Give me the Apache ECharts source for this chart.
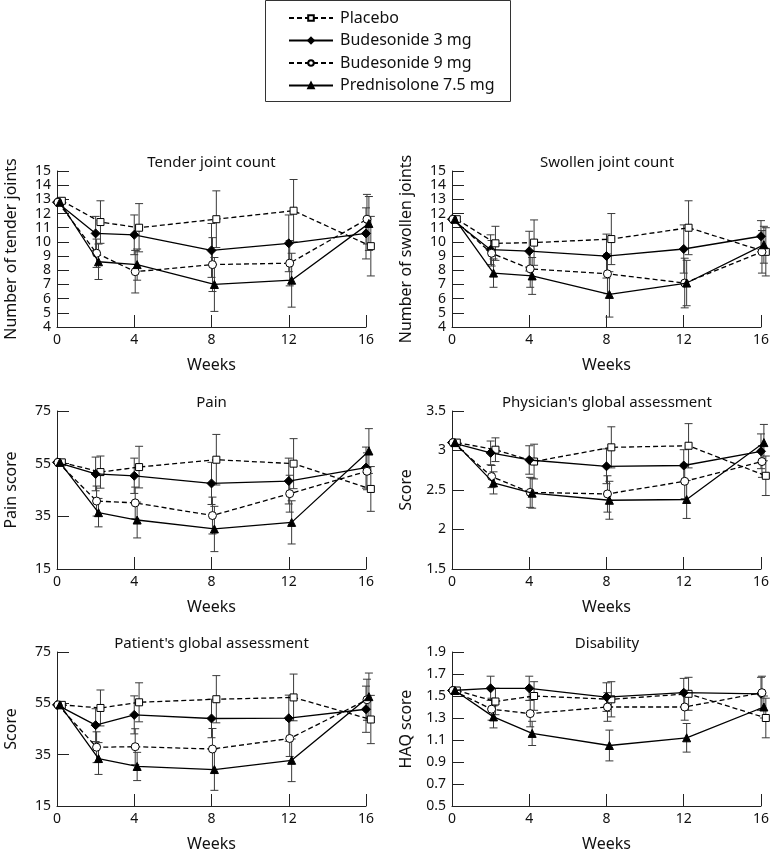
<!DOCTYPE html>
<html>
<head>
<meta charset="utf-8">
<script src="https://cdn.jsdelivr.net/npm/echarts@6/dist/echarts.min.js"></script>
<style>
  html, body { margin: 0; padding: 0; background: #fff; }
  #chart { width: 772px; height: 853px; }
</style>
</head>
<body>
<div id="chart"></div>
<script>
// weeks of assessment
const weeks = [0, 2, 4, 8, 12, 16];
const groupNames = ['Placebo', 'Budesonide 3 mg', 'Budesonide 9 mg', 'Prednisolone 7.5 mg'];

// means per group (Placebo, Bud 3, Bud 9, Pred) and error half-widths
const tenderMean = [
  [12.9, 11.4, 11.0, 11.6, 12.2, 9.7],
  [12.8, 10.6, 10.5, 9.4, 9.9, 10.6],
  [12.8, 9.2, 7.9, 8.4, 8.5, 11.6],
  [12.8, 8.6, 8.4, 7.0, 7.3, 11.3],
];
const tenderErr = [
  [0, 1.5, 1.7, 2.0, 2.2, 2.1],
  [0, 1.2, 1.4, 1.9, 2.0, 1.8],
  [0, 1.0, 1.5, 1.9, 1.6, 1.75],
  [0, 1.25, 1.1, 1.9, 1.9, 1.9],
];
const swollenMean = [
  [11.6, 9.9, 9.95, 10.2, 11.0, 9.3],
  [11.6, 9.45, 9.35, 9.0, 9.5, 10.4],
  [11.6, 9.2, 8.1, 7.75, 7.1, 9.3],
  [11.6, 7.8, 7.6, 6.3, 7.1, 9.8],
];
const swollenErr = [
  [0, 1.2, 1.6, 1.8, 1.9, 1.7],
  [0, 1.05, 1.4, 1.55, 1.7, 1.1],
  [0, 0.9, 1.3, 1.4, 1.75, 1.5],
  [0, 1.0, 1.3, 1.6, 1.6, 1.3],
];
const painMean = [
  [55.5, 51.8, 53.7, 56.5, 55.0, 45.4],
  [55.5, 51.1, 50.4, 47.5, 48.4, 53.5],
  [55.5, 40.8, 40.1, 35.3, 43.6, 52.1],
  [55.5, 36.4, 33.6, 30.2, 32.7, 59.8],
];
const painErr = [
  [0, 6.1, 7.9, 9.6, 9.5, 8.5],
  [0, 6.4, 6.7, 8.0, 8.7, 7.8],
  [0, 5.7, 6.0, 7.0, 7.0, 7.0],
  [0, 5.4, 6.8, 8.6, 8.2, 8.5],
];
const physicianMean = [
  [3.1, 3.01, 2.86, 3.04, 3.06, 2.68],
  [3.1, 2.97, 2.88, 2.80, 2.81, 2.99],
  [3.1, 2.67, 2.47, 2.45, 2.61, 2.86],
  [3.1, 2.59, 2.46, 2.37, 2.38, 3.10],
];
const physicianErr = [
  [0, 0.15, 0.22, 0.26, 0.28, 0.25],
  [0, 0.15, 0.18, 0.22, 0.20, 0.22],
  [0, 0.14, 0.19, 0.23, 0.22, 0.20],
  [0, 0.14, 0.19, 0.24, 0.24, 0.23],
];
const patientMean = [
  [54.4, 53.2, 55.4, 56.6, 57.3, 48.7],
  [54.4, 46.5, 50.5, 49.1, 49.2, 52.7],
  [54.4, 37.9, 38.1, 37.2, 41.3, 56.4],
  [54.4, 33.5, 30.4, 29.2, 32.8, 57.6],
];
const patientErr = [
  [0, 7.0, 7.6, 9.2, 9.1, 9.4],
  [0, 6.4, 7.4, 7.5, 9.0, 9.0],
  [0, 6.0, 7.0, 8.0, 7.0, 8.0],
  [0, 6.2, 5.5, 8.1, 8.3, 9.2],
];
const haqMean = [
  [1.55, 1.45, 1.50, 1.47, 1.52, 1.30],
  [1.55, 1.57, 1.57, 1.49, 1.53, 1.52],
  [1.55, 1.38, 1.34, 1.40, 1.40, 1.53],
  [1.55, 1.31, 1.16, 1.05, 1.12, 1.40],
];
const haqErr = [
  [0, 0.12, 0.13, 0.16, 0.15, 0.18],
  [0, 0.11, 0.11, 0.13, 0.13, 0.15],
  [0, 0.10, 0.12, 0.13, 0.12, 0.15],
  [0, 0.10, 0.11, 0.14, 0.13, 0.10],
];

const panelTitles = ['Tender joint count', 'Swollen joint count', 'Pain',
  "Physician's global assessment", "Patient's global assessment", 'Disability'];
const yNames = ['Number of tender joints', 'Number of swollen joints', 'Pain score',
  'Score', 'Score', 'HAQ score'];
const yMin = [4, 4, 15, 1.5, 15, 0.5];
const yMax = [15, 15, 75, 3.5, 75, 1.9];
const yStep = [1, 1, 20, 0.5, 20, 0.2];

const panelMeans = [tenderMean, swollenMean, painMean, physicianMean, patientMean, haqMean];
const panelErrs = [tenderErr, swollenErr, painErr, physicianErr, patientErr, haqErr];

// layout
const gridBoxes = [
  { left: 57, top: 171, width: 309, height: 156 },
  { left: 452, top: 171, width: 310, height: 156 },
  { left: 57, top: 411, width: 309, height: 158 },
  { left: 452, top: 411, width: 310, height: 158 },
  { left: 57, top: 652, width: 309, height: 158 },
  { left: 452, top: 652, width: 310, height: 158 },
];
// small horizontal shift so markers don't overlap
const xShift = [0.25, 0, 0.05, 0.15];
const FONT = 'Noto Sans';

const symbolStyles = [
  { symbol: 'rect', symbolSize: 7, fill: '#fff', dash: [5, 3] },
  { symbol: 'diamond', symbolSize: 9, fill: '#000', dash: 'solid' },
  { symbol: 'circle', symbolSize: 8, fill: '#fff', dash: [5, 3] },
  { symbol: 'triangle', symbolSize: 8, fill: '#000', dash: 'solid' },
];

const myChart = echarts.init(document.getElementById('chart'), null, { renderer: 'canvas' });

// 误差线
function renderErr(params, api) {
  const x = api.value(0);
  const lo = api.value(1);
  const hi = api.value(2);
  if (hi === lo) return;
  const p1 = api.coord([x, hi]);
  const p2 = api.coord([x, lo]);
  const w = 4;
  const st = { stroke: '#3a3a3a', lineWidth: 1 };
  return {
    type: 'group',
    children: [
      { type: 'line', shape: { x1: p1[0], y1: p1[1], x2: p2[0], y2: p2[1] }, style: st },
      { type: 'line', shape: { x1: p1[0] - w, y1: p1[1], x2: p1[0] + w, y2: p1[1] }, style: st },
      { type: 'line', shape: { x1: p2[0] - w, y1: p2[1], x2: p2[0] + w, y2: p2[1] }, style: st },
    ],
  };
}

const grid = gridBoxes.map((g) => ({ ...g, containLabel: false }));

const xAxis = gridBoxes.map((g, p) => ({
  type: 'value',
  gridIndex: p,
  min: 0,
  max: 16,
  interval: 4,
  name: 'Weeks',
  nameLocation: 'middle',
  nameGap: 30,
  nameTextStyle: { fontFamily: FONT, fontSize: 16, color: '#111' },
  axisLine: { lineStyle: { color: '#222', width: 1 } },
  axisTick: { inside: true, length: 12, lineStyle: { color: '#222' } },
  axisLabel: { fontFamily: FONT, fontSize: 14, color: '#111', margin: 6 },
  splitLine: { show: false },
}));

const yAxis = gridBoxes.map((g, p) => ({
  type: 'value',
  gridIndex: p,
  min: yMin[p],
  max: yMax[p],
  interval: yStep[p],
  name: yNames[p],
  nameLocation: 'middle',
  nameGap: 38,
  nameTextStyle: { fontFamily: FONT, fontSize: 16, color: '#111' },
  axisLine: { show: true, lineStyle: { color: '#222', width: 1 } },
  axisTick: { show: true, inside: true, length: 12, lineStyle: { color: '#222' } },
  axisLabel: {
    fontFamily: FONT,
    fontSize: 14,
    color: '#111',
    margin: 6,
    formatter: (v) => String(Math.round(v * 10) / 10),
  },
  splitLine: { show: false },
}));

const series = [];
panelMeans.forEach((means, p) => {
  means.forEach((vals, s) => {
    const err = panelErrs[p][s];
    series.push({
      name: 'err' + p + '_' + s,
      type: 'custom',
      xAxisIndex: p,
      yAxisIndex: p,
      clip: false,
      z: 1,
      silent: true,
      renderItem: renderErr,
      data: weeks.map((w, i) => [w + xShift[s], vals[i] - err[i], vals[i] + err[i]]),
    });
  });
  means.forEach((vals, s) => {
    const sty = symbolStyles[s];
    series.push({
      name: groupNames[s],
      type: 'line',
      xAxisIndex: p,
      yAxisIndex: p,
      clip: false,
      z: 3 + s,
      symbol: sty.symbol,
      symbolSize: sty.symbolSize,
      showAllSymbol: true,
      animation: false,
      lineStyle: { color: '#000', width: 1.3, type: sty.dash },
      itemStyle: { color: sty.fill, borderColor: '#000', borderWidth: 1 },
      data: weeks.map((w, i) => [w + xShift[s], vals[i]]),
    });
  });
});

// 面板标题
const titleText = gridBoxes.map((g, p) => ({
  type: 'text',
  x: g.left + g.width / 2,
  y: g.top - 8,
  style: {
    text: panelTitles[p],
    fill: '#111',
    font: '15px "' + FONT + '"',
    align: 'center',
    verticalAlign: 'middle',
  },
}));

myChart.setOption({
  animation: false,
  backgroundColor: '#fff',
  legend: {
    data: groupNames,
    orient: 'vertical',
    left: 283,
    top: 5,
    itemWidth: 44,
    itemHeight: 7,
    itemGap: 6.5,
    selectedMode: false,
    textStyle: { fontFamily: FONT, fontSize: 16, color: '#111', padding: [0, 0, 0, 2] },
  },
  graphic: [
    {
      type: 'rect',
      shape: { x: 265.5, y: 0.5, width: 245, height: 101 },
      style: { fill: 'none', stroke: '#333', lineWidth: 1 },
    },
    ...titleText,
  ],
  grid,
  xAxis,
  yAxis,
  series,
});
</script>
</body>
</html>
